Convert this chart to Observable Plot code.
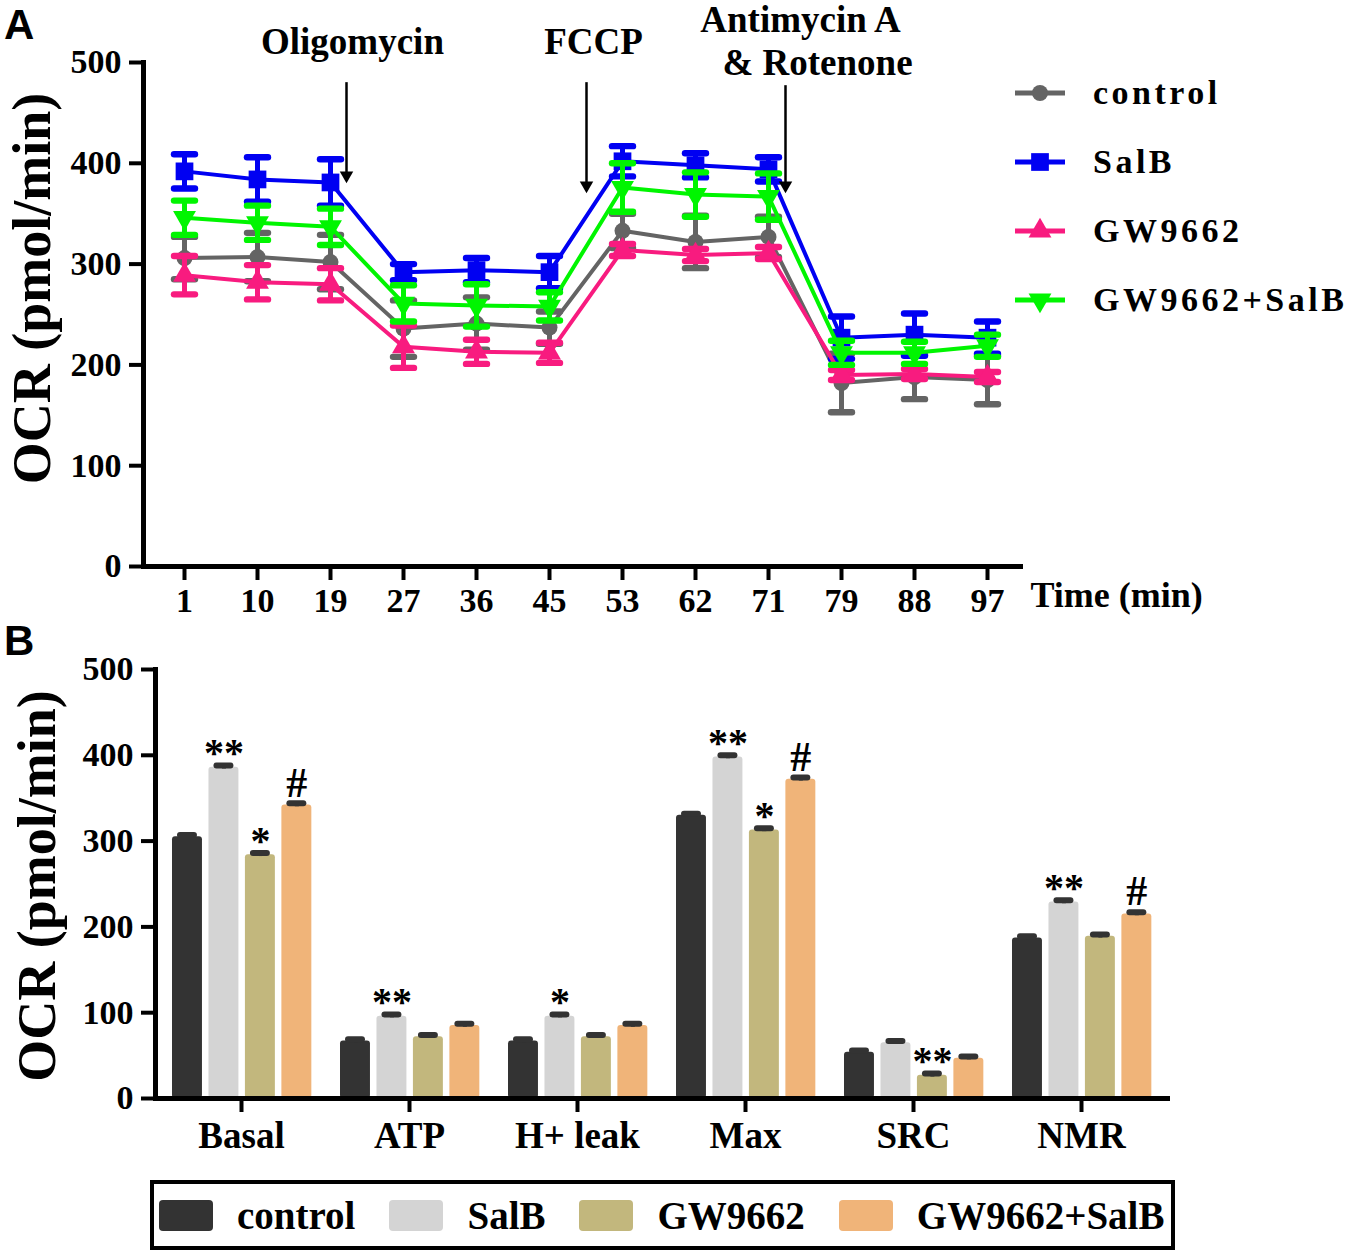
<!DOCTYPE html>
<html><head><meta charset="utf-8">
<script src="https://cdn.jsdelivr.net/npm/d3@7"></script>
<script src="https://cdn.jsdelivr.net/npm/@observablehq/plot@0.6"></script>
<style>
body{margin:0;background:#fff;}
#wrap{position:relative;width:1357px;height:1255px;overflow:hidden;font-family:"Liberation Serif","Times New Roman",serif;background:#fff;}
.panel{position:absolute;left:0;}
.letter{position:absolute;font-family:"Liberation Sans",Arial,sans-serif;font-weight:bold;font-size:42px;line-height:1;}
#legA{position:absolute;left:1014px;top:58px;}
#legA .row{display:flex;align-items:center;height:69px;}
#legA .row span{margin-left:27px;font-weight:bold;font-size:34px;letter-spacing:3.5px;}
#legB{position:absolute;left:150px;top:1180px;width:1012px;height:62px;border:4px solid #000;display:flex;align-items:center;padding-left:5px;box-sizing:content-box;}
#legB .sw{width:54px;height:31px;border-radius:4px;margin-right:24px;flex-shrink:0;}
#legB span{font-weight:bold;font-size:39px;margin-right:34px;flex-shrink:0;white-space:nowrap;}
</style></head><body><div id="wrap"></div>
<script>
// ---------- Panel A data ----------
const times = ["1","10","19","27","36","45","53","62","71","79","88","97"];
const seriesA = ["control","SalB","GW9662","GW9662+SalB"];
const controlMean = [306,307,302,236,241,237,333,322,327,182,188,185];
const controlErr  = [21,24,27,28,26,16,17,26,20,29,22,24];
const salbMean    = [392,384,381,292,294,292,402,398,394,227,230,227];
const salbErr     = [17,22,23,8,12,16,15,12,12,21,21,16];
const gwMean      = [289,282,280,218,213,212,314,309,311,190,191,188];
const gwErr       = [19,17,16,21,12,10,6,6,6,5,5,5];
const gwsalbMean  = [346,341,337,261,259,258,376,369,367,212,212,219];
const gwsalbErr   = [17,17,18,18,21,14,24,22,23,12,11,11];
const annotations = ["Oligomycin","FCCP","Antimycin A","& Rotenone"];
const annotationTimes = ["19","45","71","71"];
const injectionTimes = ["19","45","71"];
const yTicks = [0,100,200,300,400,500];

// ---------- Panel B data ----------
const categories = ["Basal","ATP","H+ leak","Max","SRC","NMR"];
const seriesB = ["control","SalB","GW9662","GW9662+SalB"];
const controlB = [305,67,67,330,54,187];
const salbB    = [386,96,96,398,65,229];
const gwB      = [284,72,72,313,27,189];
const gwsalbB  = [342,85,85,372,47,215];
const errB     = [2,2,2,2,2,2];
const sigSalb   = ["**","**","*","**","","**"];
const sigGw     = ["*","","","*","**",""];
const sigGwsalb = ["#","","","#","","#"];

// ---------- styles ----------
const colorsA = {"control":"#646464","SalB":"#0000f2","GW9662":"#f81b7f","GW9662+SalB":"#00f500"};
const symbolsA = {"control":"circle","SalB":"square","GW9662":"triangle","GW9662+SalB":"triangle"};
const radiiA = {"control":8,"SalB":10,"GW9662":8.5,"GW9662+SalB":8.5};
const colorsB = {"control":"#333333","SalB":"#d4d4d4","GW9662":"#c2b77d","GW9662+SalB":"#f0b479"};
const FONT = '"Liberation Serif","Times New Roman",serif';
// horizontal cap symbol for error bars
const capSymbol = {draw(ctx){ const w=10.5,h=3.2; ctx.moveTo(-w,-h); ctx.lineTo(w,-h); ctx.arc(w,0,h,-Math.PI/2,Math.PI/2); ctx.lineTo(-w,h); ctx.arc(-w,0,h,Math.PI/2,3*Math.PI/2); ctx.closePath(); }};

const wrap = document.getElementById("wrap");

// ---------- Panel A ----------
const meansA = [controlMean, salbMean, gwMean, gwsalbMean];
const errsA = [controlErr, salbErr, gwErr, gwsalbErr];
const dataA = [];
seriesA.forEach((s,i)=>times.forEach((t,j)=>dataA.push({series:s,time:t,mean:meansA[i][j],err:errsA[i][j]})));

const seriesMarks = [];
for (const s of seriesA) {
  const d = dataA.filter(r=>r.series===s);
  const c = colorsA[s];
  seriesMarks.push(
    Plot.ruleX(d,{x:"time",y1:r=>r.mean-r.err,y2:r=>r.mean+r.err,stroke:c,strokeWidth:5}),
    Plot.dot(d,{x:"time",y:r=>r.mean+r.err,symbol:capSymbol,fill:c,stroke:"none"}),
    Plot.dot(d,{x:"time",y:r=>r.mean-r.err,symbol:capSymbol,fill:c,stroke:"none"}),
    Plot.line(d,{x:"time",y:"mean",stroke:c,strokeWidth:4}),
    Plot.dot(d,{x:"time",y:"mean",symbol:symbolsA[s],r:radiiA[s],fill:c,stroke:"none",rotate:s==="GW9662+SalB"?180:0})
  );
}
// arrow geometry (style): offset from the time tick, shaft top and tip in y units
const arrowGeom = [{dx:16,top:480,tip:387},{dx:37,top:480,tip:377},{dx:17,top:477,tip:377}];
const arrowMarks = [];
injectionTimes.forEach((t,i)=>{
  const g = arrowGeom[i];
  arrowMarks.push(
    Plot.ruleX([t],{x:d=>d,y1:g.top,y2:g.tip,dx:g.dx,stroke:"#000",strokeWidth:2.5}),
    Plot.dot([t],{x:d=>d,y:g.tip,dx:g.dx,dy:-1,symbol:"triangle",r:5,fill:"#000",stroke:"none",rotate:180})
  );
});
const annOffsets = [{dx:22,dy:-20},{dx:44,dy:-20},{dx:32,dy:-42},{dx:49,dy:1}];
const annMarks = annotations.map((a,i)=>Plot.text([a],{x:()=>annotationTimes[i],text:d=>d,frameAnchor:"top",textAnchor:"middle",lineAnchor:"middle",dx:annOffsets[i].dx,dy:annOffsets[i].dy,fontSize:37,fontWeight:"bold"}));

const pA = Plot.plot({
  width:1357, height:640,
  marginLeft:143, marginRight:1357-1020, marginTop:62, marginBottom:640-566,
  x:{type:"point", domain:times, range:[180,990], padding:0},
  y:{domain:[0,500]},
  style:{fontFamily:FONT, overflow:"visible", background:"transparent"},
  marks:[
    Plot.frame({anchor:"left", strokeWidth:5}),
    Plot.frame({anchor:"bottom", strokeWidth:5}),
    Plot.axisY({ticks:yTicks, tickSize:14, strokeWidth:4, tickPadding:8, fontSize:34, fontWeight:"bold", label:null}),
    Plot.axisX({tickSize:14, strokeWidth:4, tickPadding:7, fontSize:34, fontWeight:"bold", label:null}),
    Plot.text(["OCR (pmol/min)"],{frameAnchor:"left",textAnchor:"middle",lineAnchor:"middle",rotate:-90,dx:32-143,dy:-26,fontSize:54,fontWeight:"bold"}),
    Plot.text(["Time (min)"],{frameAnchor:"bottom-right",textAnchor:"start",lineAnchor:"middle",dx:10,dy:29,fontSize:36,fontWeight:"bold"}),
    ...seriesMarks,
    ...arrowMarks,
    ...annMarks
  ]
});
pA.classList.add("panel"); pA.style.top="0px";
wrap.appendChild(pA);

// legend A
const legA = document.createElement("div"); legA.id="legA";
for (const s of seriesA) {
  const row = document.createElement("div"); row.className="row";
  const svg = d3.create("svg").attr("width",52).attr("height",30);
  svg.append("line").attr("x1",1).attr("x2",51).attr("y1",15).attr("y2",15).attr("stroke",colorsA[s]).attr("stroke-width",5);
  svg.append("path").attr("d",d3.symbol(s==="control"?d3.symbolCircle:s==="SalB"?d3.symbolSquare:d3.symbolTriangle, Math.PI*radiiA[s]*radiiA[s])())
    .attr("transform",`translate(26,15) rotate(${s==="GW9662+SalB"?180:0})`).attr("fill",colorsA[s]);
  row.appendChild(svg.node());
  const t = document.createElement("span"); t.textContent=s; row.appendChild(t);
  legA.appendChild(row);
}
wrap.appendChild(legA);

// ---------- Panel B ----------
const valsB = [controlB, salbB, gwB, gwsalbB];
const sigs = [categories.map(()=>""), sigSalb, sigGw, sigGwsalb];
const dataB = [];
seriesB.forEach((s,i)=>categories.forEach((c,j)=>dataB.push({series:s,cat:c,value:valsB[i][j],err:errB[j],sig:sigs[i][j]})));
const mL=155, mR=1357-1167, W=1357;
const bw = (W-mL-mR)/categories.length;
const sb = d3.scaleBand(seriesB,[15,155]).paddingInner(0.16);
const sbw = sb.bandwidth();
const marksB = [];
for (const s of seriesB) {
  const d = dataB.filter(r=>r.series===s);
  const iL = sb(s), iR = bw - sb(s) - sbw, off = sb(s)+sbw/2-bw/2;
  marksB.push(
    Plot.barY(d,{x:"cat",y:"value",fill:colorsB[s],insetLeft:iL,insetRight:iR,rx:3}),
    Plot.ruleX(d,{x:"cat",y1:r=>r.value-r.err,y2:r=>r.value+r.err,dx:off,stroke:"#333",strokeWidth:4}),
    Plot.tickY(d,{x:"cat",y:r=>r.value+r.err,insetLeft:iL+8,insetRight:iR+8,stroke:"#333",strokeWidth:6,strokeLinecap:"round"}),
    Plot.text(d.filter(r=>r.sig.startsWith("*")),{x:"cat",y:"value",text:"sig",dx:off,dy:-14,fontSize:40,fontWeight:"bold"}),
    Plot.text(d.filter(r=>r.sig==="#"),{x:"cat",y:"value",text:"sig",dx:off,dy:-22,fontSize:42,fontWeight:"bold"})
  );
}
const pB = Plot.plot({
  width:W, height:560,
  marginLeft:mL, marginRight:mR, marginTop:669-640, marginBottom:1200-1098,
  x:{domain:categories, padding:0},
  y:{domain:[0,500]},
  style:{fontFamily:FONT, overflow:"visible", background:"transparent"},
  marks:[
    ...marksB,
    Plot.frame({anchor:"left", strokeWidth:5}),
    Plot.frame({anchor:"bottom", strokeWidth:5}),
    Plot.axisY({ticks:yTicks, tickSize:14, strokeWidth:4, tickPadding:8, fontSize:34, fontWeight:"bold", label:null}),
    Plot.axisX({tickSize:14, strokeWidth:4, tickPadding:9, fontSize:37, fontWeight:"bold", label:null}),
    Plot.text(["OCR (pmol/min)"],{frameAnchor:"left",textAnchor:"middle",lineAnchor:"middle",rotate:-90,dx:37-155,dy:2,fontSize:54,fontWeight:"bold"})
  ]
});
pB.classList.add("panel"); pB.style.top="640px";
wrap.appendChild(pB);

// legend B
const legB = document.createElement("div"); legB.id="legB";
for (const s of seriesB) {
  const sw = document.createElement("div"); sw.className="sw"; sw.style.background=colorsB[s]; legB.appendChild(sw);
  const t = document.createElement("span"); t.textContent=s; legB.appendChild(t);
}
wrap.appendChild(legB);

// panel letters
for (const [L,top] of [["A",4],["B",620]]) {
  const el = document.createElement("div"); el.className="letter"; el.textContent=L;
  el.style.left="4px"; el.style.top=top+"px"; wrap.appendChild(el);
}
</script>
</body></html>
